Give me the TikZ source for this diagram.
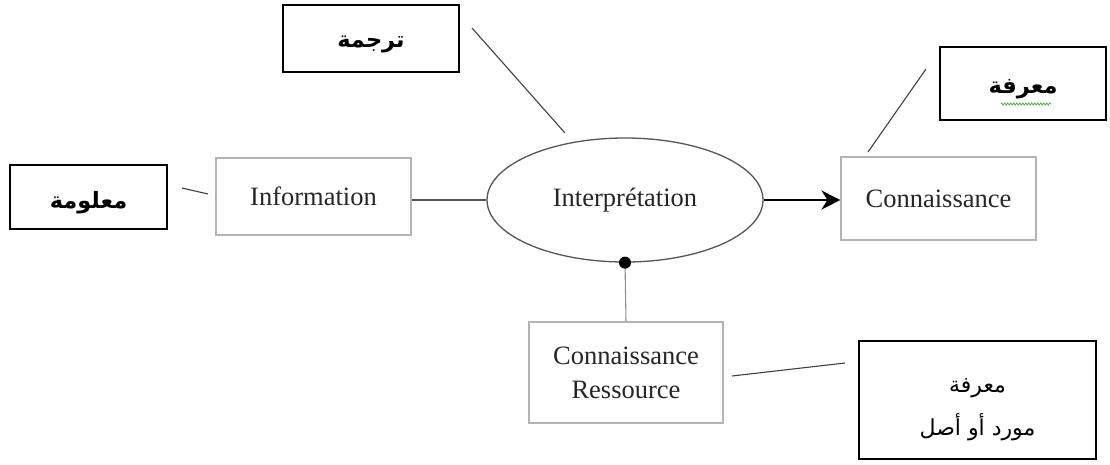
\documentclass[tikz,border=0pt]{standalone}
\usepackage{fontspec}
\setmainfont{Liberation Serif}
\newfontfamily\arabicfont[Script=Arabic]{DejaVu Sans}
\TeXXeTstate=1
\usetikzlibrary{arrows.meta,shapes.geometric,decorations.pathmorphing}
\definecolor{boxgray}{HTML}{B4B4B4}
\definecolor{linegray}{HTML}{555555}
\definecolor{textgray}{HTML}{262626}
\definecolor{squiggle}{HTML}{3A9A3A}
% right-to-left text, set a little below the box centre
\newcommand{\rtl}[1]{\raisebox{-6pt}[\height][\depth]{\beginR #1\endR}}
\begin{document}
\begin{tikzpicture}[x=1pt,y=-1pt,
  concept/.style={draw=boxgray,line width=1.1pt,rectangle,inner sep=0pt,
    font=\fontsize{26.5}{34}\selectfont,text=textgray,align=center},
  tag/.style={draw=black,line width=1.4pt,rectangle,inner sep=0pt,
    font=\arabicfont\bfseries\fontsize{22.5}{28}\selectfont,align=center},
  tagplain/.style={tag,font=\arabicfont\fontsize{22}{43}\selectfont},
  link/.style={draw=black!75,line width=1.1pt}]
\useasboundingbox (0,0) rectangle (1110,464);

% main chain
\node[concept,minimum width=195pt,minimum height=77pt] (info) at (313.5,196.5) {Information};
\node[ellipse,draw=linegray,line width=1.3pt,minimum width=276pt,minimum height=124pt,
  inner sep=0pt,font=\fontsize{26.5}{34}\selectfont,text=textgray] (interp) at (625,200) {Interprétation};
\node[concept,minimum width=195pt,minimum height=83pt] (conn) at (938.5,198.5) {Connaissance};
\node[concept,minimum width=194pt,minimum height=101pt] (res) at (626,372.5) {Connaissance\\Ressource};

% Arabic labels
\node[tag,minimum width=157pt,minimum height=64pt] (tinfo) at (88.5,197) {\rtl{معلومة}};
\node[tag,minimum width=176pt,minimum height=67pt] (tinterp) at (371,38.5) {\rtl{ترجمة}};
\node[tag,minimum width=166pt,minimum height=73pt] (tconn) at (1023,83.5) {\rtl{معرفة}};
\node[tagplain,minimum width=237pt,minimum height=118pt] (tres) at (977.5,400)
  {\raisebox{-5pt}[\height][\depth]{\begin{tabular}{@{}c@{}}\beginR معرفة\endR\\\beginR مورد أو أصل\endR\end{tabular}}};

% connections of the chain
\draw[linegray,line width=1.3pt] (info.east |- interp.west) -- (interp.west);
\draw[black,line width=1.6pt,-{Stealth[length=19pt,width=19pt,inset=6pt]}] (interp.east) -- (interp.east -| conn.west);
\draw[boxgray!80!black,line width=1.1pt] (interp.south) -- (res.north);
\fill[black] (interp.south) circle (6pt);

% label pointers
\coordinate (a1) at (182,188); \coordinate (a2) at (208,194);
\draw[link] (a1) -- (a2);
\coordinate (b1) at (472,28); \coordinate (b2) at (565,133);
\draw[link] (b1) -- (b2);
\coordinate (c1) at (926,69); \coordinate (c2) at (868,152);
\draw[link] (c1) -- (c2);
\coordinate (d1) at (732,376); \coordinate (d2) at (845,363);
\draw[link] (d1) -- (d2);

% spell-check underline
\coordinate (s1) at (1001,104); \coordinate (s2) at (1051,104);
\draw[squiggle,line width=0.6pt,decorate,decoration={zigzag,amplitude=1.2pt,segment length=3pt}] (s1) -- (s2);
\end{tikzpicture}
\end{document}
